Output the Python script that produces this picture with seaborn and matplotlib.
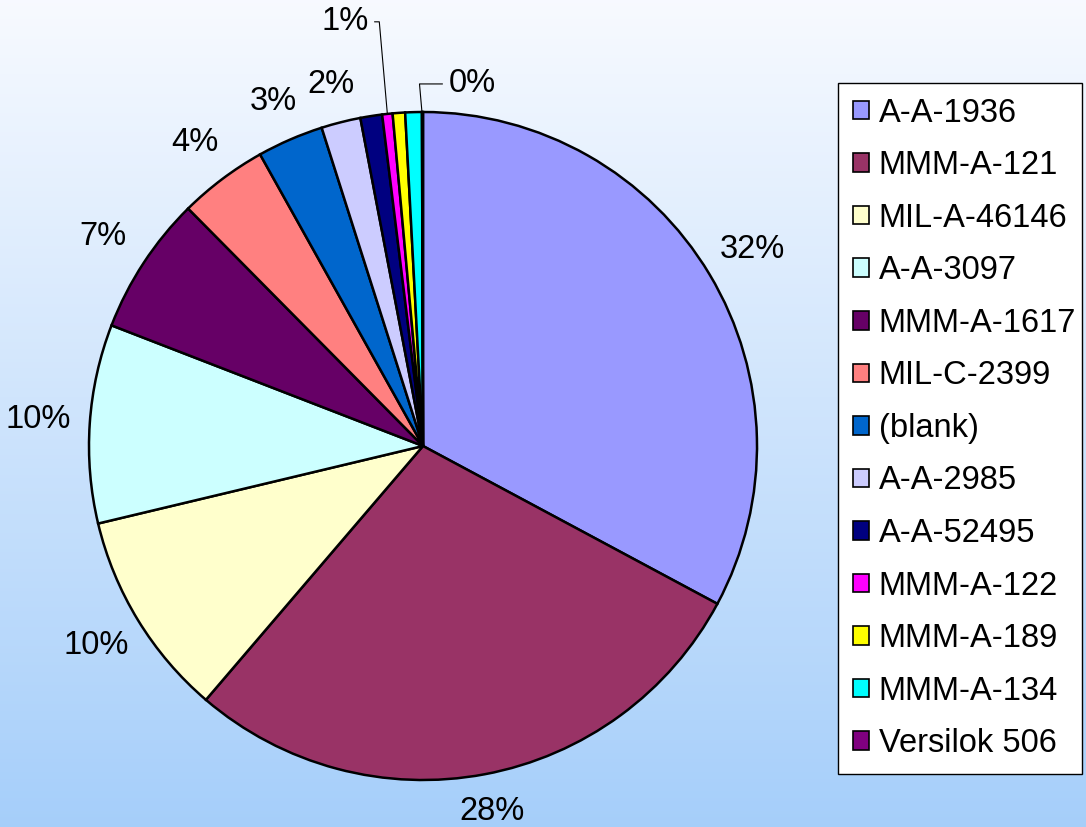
import numpy as np
import matplotlib
matplotlib.use("Agg")
import matplotlib.pyplot as plt
import seaborn as sns

categories = ["A-A-1936", "MMM-A-121", "MIL-A-46146", "A-A-3097", "MMM-A-1617",
              "MIL-C-2399", "(blank)", "A-A-2985", "A-A-52495", "MMM-A-122",
              "MMM-A-189", "MMM-A-134", "Versilok 506"]
values = [32.8, 28.4, 10.0, 9.6, 6.7, 4.3, 3.2, 1.9, 1.05, 0.5, 0.6, 0.8, 0.05]
pct_labels = ["32%", "28%", "10%", "10%", "7%", "4%", "3%", "2%", "", "1%", "", "", "0%"]
colors = ["#9999FF", "#993366", "#FFFFCC", "#CCFFFF", "#660066", "#FF8080",
          "#0066CC", "#CCCCFF", "#000080", "#FF00FF", "#FFFF00", "#00FFFF", "#800080"]

sns.set_theme(style="white")
plt.rcParams["font.family"] = ["Liberation Sans", "DejaVu Sans"]
plt.rcParams["text.color"] = "black"
fs = 23.5

W, H = 1086, 827
fig = plt.figure(figsize=(W / 100, H / 100), dpi=100)

# background gradient
bg = fig.add_axes([0, 0, 1, 1], zorder=0)
grad = np.linspace(0, 1, 256)[:, None]
top = np.array([0.97, 0.98, 1.0])
bot = np.array([0.65, 0.81, 0.98])
img = top[None, None, :] * (1 - grad[:, :, None]) + bot[None, None, :] * grad[:, :, None]
bg.imshow(img, aspect="auto", extent=[0, 1, 0, 1])
bg.set_axis_off()

cx, cy, r = 423, 446, 334
ax = fig.add_axes([(cx - r) / W, (H - cy - r) / H, 2 * r / W, 2 * r / H], zorder=1)
ax.set_facecolor("none")
pal = sns.color_palette(colors)
wedges, _ = ax.pie(values, colors=pal, startangle=90, counterclock=False,
                   wedgeprops=dict(edgecolor="black", linewidth=1.8), radius=1)
ax.set_xlim(-1, 1)
ax.set_ylim(-1, 1)
ax.set_aspect("equal")
ax.set_axis_off()

leader = {"1%": (-0.234, 1.27), "0%": (0.147, 1.084)}
for w, lab in zip(wedges, pct_labels):
    if not lab:
        continue
    mid = np.deg2rad((w.theta1 + w.theta2) / 2)
    if lab in leader:
        xt, yt = leader[lab]
        ex, ey = np.cos(mid), np.sin(mid)
        if lab == "0%":
            ex, ey = np.cos(np.deg2rad(w.theta2)), np.sin(np.deg2rad(w.theta2))
        ax.annotate(lab, xy=(ex, ey), xytext=(xt, yt), fontsize=fs, ha="center", va="center",
                    color="black", annotation_clip=False,
                    arrowprops=dict(arrowstyle="-", color="black", lw=0.8,
                                    shrinkA=2, shrinkB=0,
                                    connectionstyle="angle,angleA=0,angleB=95,rad=0"))
    else:
        d = 1.105 + 0.05 * abs(np.cos(mid))
        ax.text(d * np.cos(mid), d * np.sin(mid), lab, fontsize=fs, ha="center", va="center",
                color="black", clip_on=False)

leg = fig.legend(wedges, categories, loc="upper left",
                 bbox_to_anchor=(838 / W, 1 - 83 / H, (1082 - 838) / W, 0), mode="expand",
                 fontsize=fs, frameon=True, fancybox=False, edgecolor="black",
                 handlelength=0.5, handleheight=0.5, handletextpad=0.3,
                 labelspacing=0.66, borderpad=0.45, borderaxespad=0)
leg.get_frame().set_linewidth(1.0)
leg.get_frame().set_facecolor("white")
leg.get_frame().set_alpha(1)
for t in leg.get_texts():
    t.set_color("black")
for h in leg.legend_handles:
    h.set_linewidth(1.2)

fig.savefig("out.png", dpi=100)
